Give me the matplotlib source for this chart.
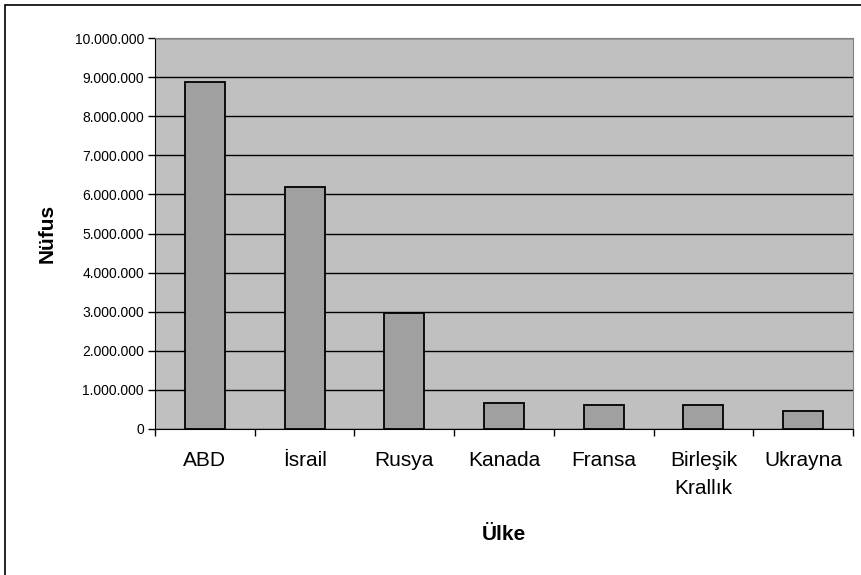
import matplotlib
matplotlib.use("Agg")
import matplotlib.pyplot as plt
from matplotlib.patches import Rectangle
from matplotlib.ticker import FuncFormatter, FixedLocator

# Data
countries = ["ABD", "İsrail", "Rusya", "Kanada", "Fransa", "Birleşik\nKrallık", "Ukrayna"]
population = [8880000, 6180000, 2960000, 660000, 620000, 620000, 450000]
y_ticks = list(range(0, 10000001, 1000000))

plt.rcParams["font.family"] = ["Liberation Sans", "DejaVu Sans"]

fig = plt.figure(figsize=(8.61, 5.75), dpi=100, facecolor="white")
ax = fig.add_axes([155 / 861, 1 - 429 / 575, 698 / 861, 391 / 575])
ax.set_facecolor("#C0C0C0")

x = range(len(countries))
ax.bar(x, population, width=0.4, color="#A0A0A0", edgecolor="black",
       linewidth=1.3, zorder=3)

ax.set_xlim(-0.5, len(countries) - 0.5)
ax.set_ylim(0, 10000000)
ax.set_yticks(y_ticks)
ax.yaxis.set_major_formatter(
    FuncFormatter(lambda v, _: f"{int(v):,}".replace(",", ".")))
ax.grid(axis="y", color="black", linewidth=1.0, zorder=1)

ax.set_xticks(list(x))
ax.set_xticklabels(countries, fontsize=15, linespacing=1.6)
ax.tick_params(axis="x", length=0, pad=16)
ax.xaxis.set_minor_locator(FixedLocator([i + 0.5 for i in range(-1, len(countries))]))
ax.tick_params(axis="x", which="minor", length=5, width=1, direction="out")
ax.tick_params(axis="y", labelsize=10, length=5, width=1, direction="out", pad=3)

for side in ["top", "right"]:
    ax.spines[side].set_color("#808080")
for side in ["left", "bottom"]:
    ax.spines[side].set_color("black")

ax.set_ylabel("Nüfus", fontsize=15, fontweight="bold")
ax.yaxis.set_label_coords(-108 / 698, 0.5)
ax.set_xlabel("Ülke", fontsize=15, fontweight="bold")
ax.xaxis.set_label_coords(0.5, -(534 - 429) / 391)
ax.xaxis.label.set_va("center")
ax.yaxis.label.set_va("center")

# outer chart-area frame (only left/top visible in the reference)
fig.patches.append(Rectangle((5 / 861, -0.1), 1.2, (1 - 5 / 575) + 0.1,
                             transform=fig.transFigure, fill=False,
                             edgecolor="black", linewidth=1.2))

fig.savefig("out.png", dpi=100, facecolor="white")
